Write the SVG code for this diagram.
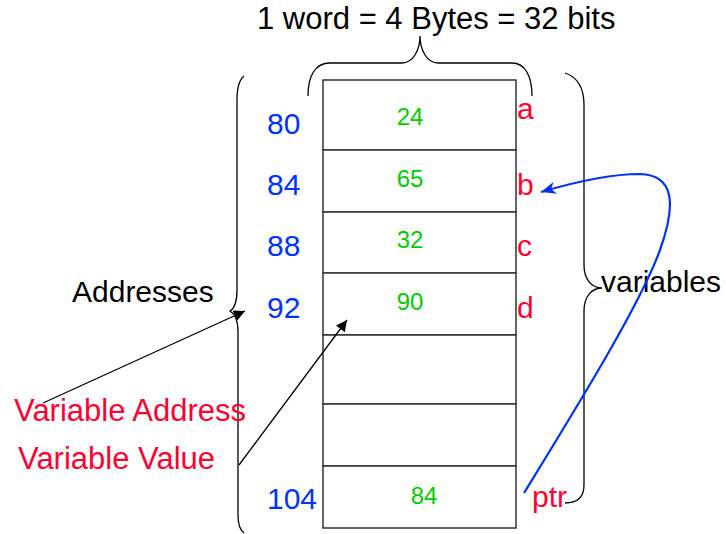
<svg xmlns="http://www.w3.org/2000/svg" width="726" height="534" viewBox="0 0 726 534">
<defs>
<style>
text{font-family:"Liberation Sans",Arial,sans-serif;}
.big{font-size:30px;}
.blk{fill:#000;}
.addr{fill:#0033ff;font-size:30px;}
.val{fill:#00cc00;font-size:24px;text-anchor:middle;}
.var{fill:#ff0033;font-size:30px;}
.lbl{fill:#ff0033;font-size:31px;}
.cell{fill:#fff;stroke:#333;stroke-width:1.5;}
.brace{fill:none;stroke:#000;stroke-width:1.3;}
.conn{fill:none;stroke:#000;stroke-width:1.3;}
</style>
<marker id="ah" viewBox="0 0 10 10" refX="10" refY="5" markerWidth="12" markerHeight="11" markerUnits="userSpaceOnUse" orient="auto">
<path d="M0,0 L10,5 L0,10 Z" fill="#000"/>
</marker>
<marker id="ahb" viewBox="0 0 12 10" refX="12" refY="5" markerWidth="15" markerHeight="13" markerUnits="userSpaceOnUse" orient="auto">
<path d="M0,0 L12,5 L0,10 L3.5,5 Z" fill="#0033ee"/>
</marker>
</defs>
<rect width="726" height="534" fill="#fff"/>

<g id="title"><text class="blk" style="font-size:31px" x="257" y="29">1 word = 4 Bytes = 32 bits</text></g>

<g id="top-brace"><path class="brace" d="M308,96 C308,76 315,63 330,63 L402,63 C413,63 420,50 420,36 C420,50 427,63 438,63 L512,63 C525,63 532,76 532,96"/></g>

<g id="memory">
<rect class="cell" x="323" y="80" width="193" height="70"/>
<rect class="cell" x="323" y="150" width="193" height="62"/>
<rect class="cell" x="323" y="212" width="193" height="61"/>
<rect class="cell" x="323" y="273" width="193" height="62"/>
<rect class="cell" x="323" y="335" width="193" height="69"/>
<rect class="cell" x="323" y="404" width="193" height="62"/>
<rect class="cell" x="323" y="466" width="193" height="62"/>
</g>

<g id="values">
<text class="val" x="410" y="125">24</text>
<text class="val" x="410" y="187">65</text>
<text class="val" x="410" y="248">32</text>
<text class="val" x="410" y="310">90</text>
<text class="val" x="424" y="504">84</text>
</g>

<g id="addresses">
<text class="addr" x="267" y="134">80</text>
<text class="addr" x="267" y="195">84</text>
<text class="addr" x="267" y="256">88</text>
<text class="addr" x="267" y="318">92</text>
<text class="addr" x="267" y="509">104</text>
</g>

<g id="varnames">
<text class="var" x="517" y="119">a</text>
<text class="var" x="517" y="195">b</text>
<text class="var" x="517" y="256">c</text>
<text class="var" x="517" y="318">d</text>
<text class="var" x="532" y="507">ptr</text>
</g>

<g id="left-brace"><path class="brace" d="M244,76 C239,80 237,88 237,100 L237,290 C237,302 235,308 230,311 C235,314 238,320 238,332 L238,515 C238,524 240,530 244,533"/></g>
<g id="addresses-label"><text class="big blk" x="72" y="302">Addresses</text></g>

<g id="right-brace"><path class="brace" d="M565,73 C577,77 584,88 584,105 L584,265 C584,280 592,288 602,288 C592,288 584,296 584,311 L584,485 C584,497 577,503 565,503"/></g>
<g id="variables-label"><text class="big blk" x="601" y="292">variables</text></g>

<g id="labels">
<text class="lbl" x="14" y="421">Variable Address</text>
<text class="lbl" x="18" y="469">Variable Value</text>
</g>

<g id="connectors">
<line class="conn" x1="43" y1="403" x2="245" y2="311" marker-end="url(#ah)"/>
<line class="conn" x1="239" y1="465" x2="347" y2="320" marker-end="url(#ah)"/>
<path d="M524,493 C578,405 640,305 660,250 C676,205 675,175 640,174 C610,174 575,182 541,192" fill="none" stroke="#0033ee" stroke-width="2.2" marker-end="url(#ahb)"/>
</g>
</svg>
